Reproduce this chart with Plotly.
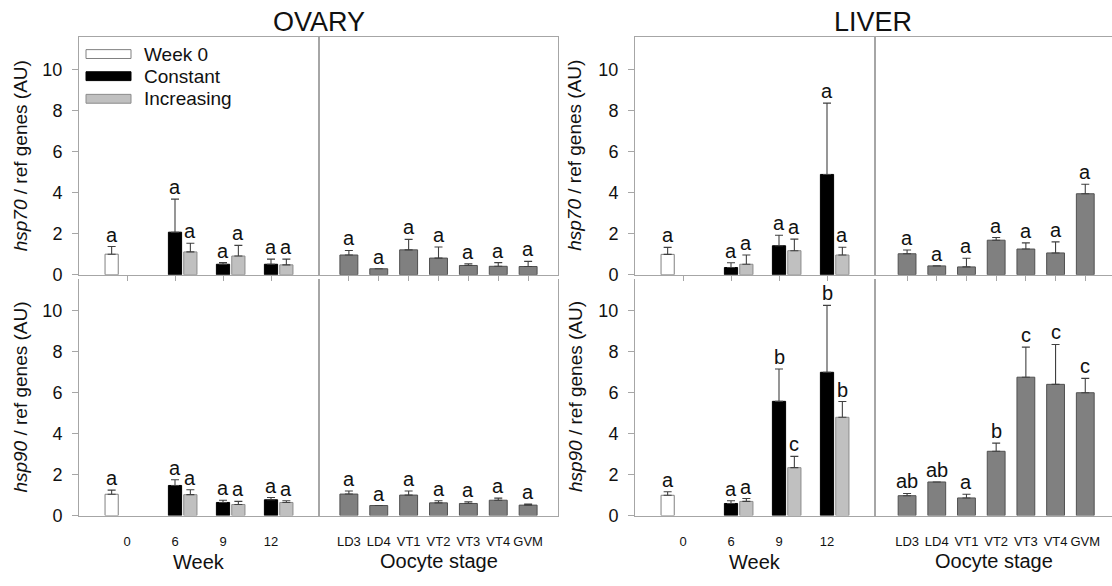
import plotly.graph_objects as go

# ---------------- data ----------------
weeks = ['0', '6', '9', '12']
weeks_treat = ['6', '9', '12']
stages = ['LD3', 'LD4', 'VT1', 'VT2', 'VT3', 'VT4', 'GVM']
series_names = ['Week 0', 'Constant', 'Increasing']

# OVARY hsp70
ov70_w0 = [1.00]
ov70_w0_se = [0.37]
ov70_const = [2.07, 0.51, 0.51]
ov70_const_se = [1.61, 0.08, 0.25]
ov70_incr = [1.11, 0.91, 0.48]
ov70_incr_se = [0.42, 0.52, 0.28]
ov70_stage = [0.96, 0.29, 1.21, 0.81, 0.45, 0.41, 0.40]
ov70_stage_se = [0.22, 0.0, 0.51, 0.54, 0.08, 0.18, 0.25]
ov70_lw0 = ['a']
ov70_lconst = ['a', 'a', 'a']
ov70_lincr = ['a', 'a', 'a']
ov70_lstage = ['a', 'a', 'a', 'a', 'a', 'a', 'a']

# OVARY hsp90
ov90_w0 = [1.04]
ov90_w0_se = [0.20]
ov90_const = [1.47, 0.64, 0.77]
ov90_const_se = [0.28, 0.11, 0.11]
ov90_incr = [1.02, 0.54, 0.64]
ov90_incr_se = [0.24, 0.15, 0.08]
ov90_stage = [1.05, 0.49, 1.00, 0.62, 0.59, 0.75, 0.51]
ov90_stage_se = [0.15, 0.0, 0.20, 0.10, 0.08, 0.10, 0.05]
ov90_lw0 = ['a']
ov90_lconst = ['a', 'a', 'a']
ov90_lincr = ['a', 'a', 'a']
ov90_lstage = ['a', 'a', 'a', 'a', 'a', 'a', 'a']

# LIVER hsp70
li70_w0 = [0.99]
li70_w0_se = [0.34]
li70_const = [0.35, 1.41, 4.88]
li70_const_se = [0.23, 0.51, 3.47]
li70_incr = [0.51, 1.17, 0.96]
li70_incr_se = [0.45, 0.56, 0.38]
li70_stage = [1.02, 0.43, 0.38, 1.68, 1.25, 1.06, 3.94]
li70_stage_se = [0.18, 0.0, 0.42, 0.13, 0.30, 0.54, 0.46]
li70_lw0 = ['a']
li70_lconst = ['a', 'a', 'a']
li70_lincr = ['a', 'a', 'a']
li70_lstage = ['a', 'a', 'a', 'a', 'a', 'a', 'a']

# LIVER hsp90
li90_w0 = [0.99]
li90_w0_se = [0.17]
li90_const = [0.59, 5.58, 7.00]
li90_const_se = [0.13, 1.58, 3.27]
li90_incr = [0.69, 2.34, 4.80]
li90_incr_se = [0.14, 0.55, 0.77]
li90_stage = [0.97, 1.64, 0.86, 3.14, 6.76, 6.41, 6.00]
li90_stage_se = [0.11, 0.0, 0.18, 0.40, 1.47, 1.95, 0.70]
li90_lw0 = ['a']
li90_lconst = ['a', 'b', 'b']
li90_lincr = ['a', 'c', 'b']
li90_lstage = ['ab', 'ab', 'a', 'b', 'c', 'c', 'c']

yticks = [0, 2, 4, 6, 8, 10]

# ---------------- styling ----------------
W, H = 1112, 586
FONT = 'Liberation Sans, Arial, sans-serif'
AXC = '#a6a6a6'
TXT = '#111111'
ERRC = '#404040'
fills = ['#ffffff', '#000000', '#c0c0c0']
edges = ['#808080', '#000000', '#8c8c8c']
STAGE_FILL = '#808080'
STAGE_EDGE = '#505050'
GOFF = 0.32      # offset of grouped bars (category units)
BW = 0.275       # grouped bar width
SBW = 0.6        # stage bar width
YR = [0, 11.55]


def px_x(p):
    return p / W


def px_y(p):
    return 1 - p / H


xdom = {
    'ov_w': [px_x(79), px_x(319)],
    'ov_s': [px_x(319), px_x(558)],
    'li_w': [px_x(635), px_x(875)],
    'li_s': [px_x(875), 1.0],
}
ydom = {'top': [px_y(279.5), px_y(38)], 'bot': [px_y(524.5), px_y(284)]}

fig = go.Figure()
layout = dict(
    width=W, height=H, margin=dict(l=0, r=0, t=0, b=0),
    paper_bgcolor='white', plot_bgcolor='white',
    font=dict(family=FONT, color=TXT),
    showlegend=False, barmode='overlay',
)
annotations = []
shapes = []

panels = [
    ('top', 'ov', (ov70_w0, ov70_w0_se, ov70_lw0), (ov70_const, ov70_const_se, ov70_lconst),
     (ov70_incr, ov70_incr_se, ov70_lincr), (ov70_stage, ov70_stage_se, ov70_lstage)),
    ('bot', 'ov', (ov90_w0, ov90_w0_se, ov90_lw0), (ov90_const, ov90_const_se, ov90_lconst),
     (ov90_incr, ov90_incr_se, ov90_lincr), (ov90_stage, ov90_stage_se, ov90_lstage)),
    ('top', 'li', (li70_w0, li70_w0_se, li70_lw0), (li70_const, li70_const_se, li70_lconst),
     (li70_incr, li70_incr_se, li70_lincr), (li70_stage, li70_stage_se, li70_lstage)),
    ('bot', 'li', (li90_w0, li90_w0_se, li90_lw0), (li90_const, li90_const_se, li90_lconst),
     (li90_incr, li90_incr_se, li90_lincr), (li90_stage, li90_stage_se, li90_lstage)),
]

ax_n = 0
for row, organ, w0, cst, inc, stg in panels:
    # ---- week subplot ----
    ax_n += 1
    xa, ya = f'x{ax_n}', f'y{ax_n}'
    xk, yk = f'xaxis{ax_n}', f'yaxis{ax_n}'
    groups = [(['0'], w0, -GOFF), (weeks_treat, cst, 0.0), (weeks_treat, inc, GOFF)]
    for gi, (xc, (vals, se, letters), off) in enumerate(groups):
        fig.add_trace(go.Bar(
            x=xc, y=vals, xaxis=xa, yaxis=ya, name=series_names[gi],
            width=BW, offset=off - BW / 2,
            marker=dict(color=fills[gi], line=dict(color=edges[gi], width=1)),
            error_y=dict(type='data', array=se, arrayminus=[0] * len(se), symmetric=False,
                         color=ERRC, thickness=1.1, width=4),
        ))
        for c, v, s, lt in zip(xc, vals, se, letters):
            annotations.append(dict(
                x=weeks.index(c) + off, y=v + s, xref=xa, yref=ya, text=lt,
                showarrow=False, yanchor='bottom', xanchor='center',
                font=dict(size=20, color=TXT), yshift=-1))
    layout[xk] = dict(
        domain=xdom[organ + '_w'], anchor=ya, type='category',
        categoryorder='array', categoryarray=weeks, range=[-1, 4],
        showline=True, linecolor=AXC, linewidth=1,
        mirror=(row == 'top'),
        ticks='outside' if row == 'top' else '', ticklen=5, tickcolor=AXC,
        showticklabels=(row == 'bot'), tickfont=dict(size=13, color=TXT),
        ticklabelstandoff=14, showgrid=False, zeroline=False, fixedrange=True)
    layout[yk] = dict(
        domain=ydom[row], anchor=xa, range=YR, tickvals=yticks,
        showline=True, linecolor=AXC, linewidth=1, mirror=True,
        ticks='outside', ticklen=6, tickcolor=AXC,
        tickfont=dict(size=18, color=TXT), ticklabelstandoff=6,
        showgrid=False, zeroline=False, fixedrange=True)

    # ---- stage subplot ----
    ax_n += 1
    xa, ya = f'x{ax_n}', f'y{ax_n}'
    xk, yk = f'xaxis{ax_n}', f'yaxis{ax_n}'
    vals, se, letters = stg
    fig.add_trace(go.Bar(
        x=stages, y=vals, xaxis=xa, yaxis=ya, name='Oocyte stage',
        width=SBW, offset=-SBW / 2,
        marker=dict(color=STAGE_FILL, line=dict(color=STAGE_EDGE, width=1)),
        error_y=dict(type='data', array=se, arrayminus=[0] * len(se), symmetric=False,
                     color=ERRC, thickness=1.1, width=4),
    ))
    for i, (v, s, lt) in enumerate(zip(vals, se, letters)):
        annotations.append(dict(
            x=i, y=v + s, xref=xa, yref=ya, text=lt, showarrow=False,
            yanchor='bottom', xanchor='center', font=dict(size=20, color=TXT), yshift=-1))
    srange = [-1, 7] if organ == 'ov' else [-1.08, 6.9]
    layout[xk] = dict(
        domain=xdom[organ + '_s'], anchor=ya, type='category',
        categoryorder='array', categoryarray=stages, range=srange,
        showline=True, linecolor=AXC, linewidth=1,
        mirror=(row == 'top'),
        ticks='outside' if row == 'top' else '', ticklen=5, tickcolor=AXC,
        showticklabels=(row == 'bot'), tickfont=dict(size=13, color=TXT),
        ticklabelstandoff=14, showgrid=False, zeroline=False, fixedrange=True)
    layout[yk] = dict(
        domain=ydom[row], anchor=xa, range=YR, tickvals=yticks,
        showline=True, linecolor=AXC, linewidth=1, mirror=(organ == 'ov'),
        ticks='', showticklabels=False,
        showgrid=False, zeroline=False, fixedrange=True)


def paper_text(x, y, text, size, angle=0, xanchor='center'):
    return dict(x=px_x(x), y=px_y(y), xref='paper', yref='paper', text=text,
                showarrow=False, xanchor=xanchor, yanchor='middle', textangle=angle,
                font=dict(size=size, color=TXT))


# ---- titles ----
annotations.append(paper_text(318.5, 22, 'OVARY', 27))
annotations.append(paper_text(873, 22, 'LIVER', 27))
for cx in [199, 755]:
    annotations.append(paper_text(cx, 572, 'Week', 20))
for cx in [438.5, 993.5]:
    annotations.append(paper_text(cx, 571, 'Oocyte stage', 20))
for cx in [20.5, 575]:
    annotations.append(paper_text(cx, 158.5, '<i>hsp70</i> / ref genes (AU)', 19, angle=-90))
    annotations.append(paper_text(cx, 404, '<i>hsp90</i> / ref genes (AU)', 19, angle=-90))

# ---- custom legend (wide swatches) ----
leg_y = [55, 77.5, 100.5]
for i, nm in enumerate(series_names):
    shapes.append(dict(type='rect', xref='paper', yref='paper',
                       x0=px_x(86), x1=px_x(131), y0=px_y(leg_y[i] + 4.5), y1=px_y(leg_y[i] - 4.5),
                       fillcolor=fills[i], line=dict(color=edges[i], width=1)))
    annotations.append(paper_text(142, leg_y[i], nm, 19, xanchor='left'))

layout['annotations'] = annotations
layout['shapes'] = shapes
fig.update_layout(**layout)
fig.write_html('out.html')
